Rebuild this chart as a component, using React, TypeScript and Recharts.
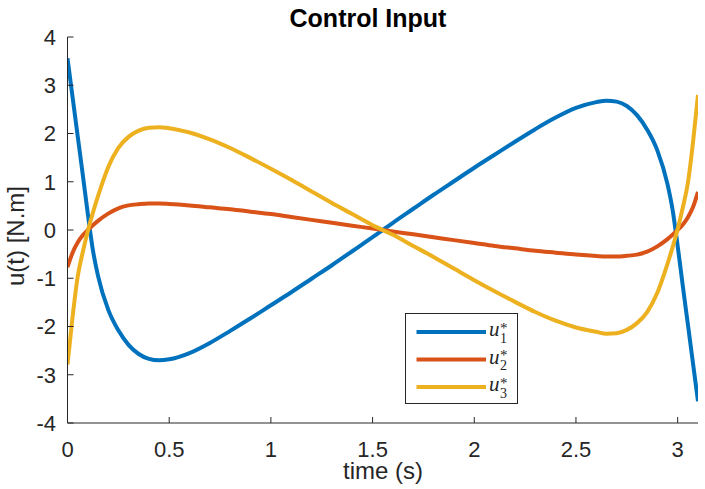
import { LineChart, Line, XAxis, YAxis, Legend } from "recharts";

const time = [
  0, 0.025, 0.05, 0.075, 0.1, 0.125, 0.15, 0.2, 0.25, 0.3, 0.35, 0.4, 0.45, 0.5,
  0.6, 0.7, 0.8, 0.9, 1.0, 1.1, 1.2, 1.3, 1.4, 1.5, 1.55,
  1.6, 1.7, 1.8, 1.9, 2.0, 2.1, 2.2, 2.3, 2.4, 2.5, 2.6, 2.65, 2.7, 2.75, 2.8,
  2.85, 2.9, 2.95, 2.975, 3.0, 3.025, 3.05, 3.075, 3.1,
];

const u1 = [
  3.56, 2.75, 1.95, 1.15, 0.33, -0.42, -0.95, -1.65, -2.08, -2.38, -2.57, -2.67, -2.7, -2.68,
  -2.55, -2.34, -2.09, -1.83, -1.56, -1.29, -1.01, -0.73, -0.44, -0.15, 0,
  0.15, 0.44, 0.73, 1.01, 1.29, 1.56, 1.83, 2.09, 2.33, 2.53, 2.65, 2.68, 2.66, 2.57, 2.38,
  2.08, 1.65, 0.95, 0.42, -0.33, -1.15, -1.95, -2.75, -3.55,
];

const u2 = [
  -0.77, -0.47, -0.26, -0.11, 0.0, 0.1, 0.19, 0.34, 0.45, 0.51, 0.535, 0.55, 0.55, 0.54,
  0.51, 0.47, 0.43, 0.38, 0.33, 0.27, 0.21, 0.15, 0.09, 0.03, 0,
  -0.03, -0.09, -0.15, -0.21, -0.27, -0.33, -0.38, -0.43, -0.47, -0.51, -0.54, -0.55, -0.55, -0.535, -0.51,
  -0.45, -0.34, -0.19, -0.1, 0.0, 0.11, 0.26, 0.47, 0.79,
];

const u3 = [
  -2.79, -1.8, -0.97, -0.46, -0.02, 0.36, 0.7, 1.3, 1.7, 1.93, 2.06, 2.12, 2.13, 2.11,
  2.02, 1.88, 1.7, 1.49, 1.27, 1.04, 0.8, 0.56, 0.33, 0.1, 0,
  -0.1, -0.33, -0.56, -0.8, -1.04, -1.27, -1.49, -1.7, -1.88, -2.02, -2.11, -2.15, -2.14, -2.07, -1.93,
  -1.7, -1.3, -0.7, -0.36, 0.02, 0.46, 0.97, 1.8, 2.8,
];

const xTicks = [0, 0.5, 1, 1.5, 2, 2.5, 3];
const yTicks = [-4, -3, -2, -1, 0, 1, 2, 3, 4];

const series = [
  { key: "u1", color: "#0072BD" },
  { key: "u2", color: "#D95319" },
  { key: "u3", color: "#EDB120" },
];

const data = time.map((t, i) => ({ t, u1: u1[i], u2: u2[i], u3: u3[i] }));

const SANS = "'Liberation Sans', Arial, Helvetica, sans-serif";
const SERIF = "'Liberation Serif', 'Times New Roman', serif";
const AXIS = "#262626";

// legend drawn like MATLAB's latex legend: u with a stacked * and subscript
function LegendBox({ payload }: any) {
  const rows = payload || [];
  return (
    <svg width={113} height={91} style={{ display: "block" }}>
      <rect x={0.5} y={0.5} width={112} height={90} fill="#fff" stroke={AXIS} strokeWidth={1} />
      {rows.map((entry: any, i: number) => {
        const y = 19 + i * 27.5;
        const idx = String(entry.value).slice(1);
        return (
          <g key={entry.value}>
            <line x1={11.5} x2={81} y1={y} y2={y} stroke={entry.color} strokeWidth={4} />
            <text x={84} y={y + 4} fontFamily={SERIF} fill={AXIS}>
              <tspan fontStyle="italic" fontSize={21}>u</tspan>
              <tspan fontSize={15} dx={0.5} dy={-3.5}>*</tspan>
              <tspan fontSize={14} dx={-7.5} dy={10}>{idx}</tspan>
            </text>
          </g>
        );
      })}
    </svg>
  );
}

export default function App() {
  const tickStyle = { fill: AXIS, fontSize: 22, fontFamily: SANS };
  return (
    <div style={{ position: "absolute", left: 0, top: 0, width: 705, height: 489, background: "#fff" }}>
      <LineChart width={705} height={489} data={data} margin={{ top: 37, right: 7, bottom: 26, left: 0 }}>
        <XAxis
          xAxisId="bottom"
          dataKey="t"
          type="number"
          domain={[0, 3.1]}
          ticks={xTicks}
          allowDataOverflow
          height={40}
          tickSize={-6}
          tickMargin={24}
          stroke={AXIS}
          tick={tickStyle}
        />
        <XAxis
          xAxisId="top"
          orientation="top"
          dataKey="t"
          type="number"
          domain={[0, 3.1]}
          ticks={xTicks}
          allowDataOverflow
          height={0}
          tickSize={-6}
          stroke={AXIS}
          tick={false}
        />
        <YAxis
          yAxisId="left"
          type="number"
          domain={[-4, 4]}
          ticks={yTicks}
          width={67.5}
          tickSize={-6}
          tickMargin={17.5}
          stroke={AXIS}
          tick={tickStyle}
        />
        <YAxis
          yAxisId="right"
          orientation="right"
          type="number"
          domain={[-4, 4]}
          ticks={yTicks}
          width={0}
          tickSize={-6}
          stroke={AXIS}
          tick={false}
        />
        {series.map((s) => (
          <Line
            key={s.key}
            xAxisId="bottom"
            yAxisId="left"
            type="monotone"
            dataKey={s.key}
            name={s.key}
            stroke={s.color}
            strokeWidth={4}
            dot={false}
            isAnimationActive={false}
          />
        ))}
        <Legend
          layout="vertical"
          align="center"
          verticalAlign="middle"
          content={LegendBox}
          wrapperStyle={{ left: 405, top: 313, width: 113, height: 91 }}
        />
      </LineChart>
      <svg
        width={705}
        height={489}
        style={{ position: "absolute", left: 0, top: 0, pointerEvents: "none" }}
      >
        <text x={368} y={27} textAnchor="middle" fontFamily={SANS} fontWeight="bold" fontSize={25} fill="#000">
          Control Input
        </text>
        <text x={383} y={479} textAnchor="middle" fontFamily={SANS} fontSize={24} fill={AXIS}>
          time (s)
        </text>
        <text
          x={24}
          y={236}
          textAnchor="middle"
          fontFamily={SANS}
          fontSize={24}
          fill={AXIS}
          transform="rotate(-90 24 236)"
        >
          u(t) [N.m]
        </text>
      </svg>
    </div>
  );
}
